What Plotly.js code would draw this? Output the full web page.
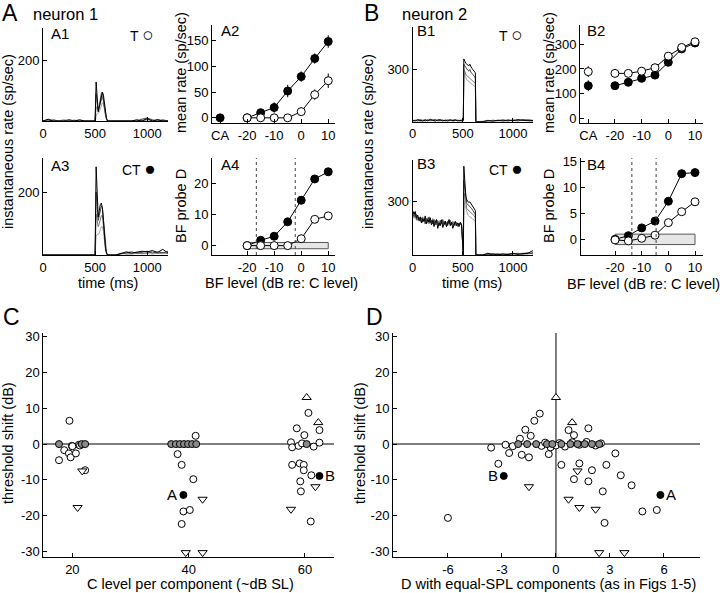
<!DOCTYPE html>
<html>
<head>
<meta charset="utf-8">
<script src="https://cdn.plot.ly/plotly-3.0.1.min.js"></script>
<style>
  html, body { margin: 0; padding: 0; background: #fff; }
  #plotArea { width: 720px; height: 593px; }
</style>
</head>
<body>
<div id="plotArea"></div>
<script>
// ---- neuron 1 PSTHs (A1 = T alone, A3 = C+T), time in ms ----
var tN1 = [0,50,100,150,200,250,300,350,400,450,500,
           510,520,530,540,550,560,570,580,590,600,610,620,650,
           700,750,800,850,900,950,1000,1050,1100,1150,1200];
var a1Rates = [
  [0,0,0,0,5,0,0,0,0,0,0, 15,25,25,30,40,50,60,55,35,15,5,0,0, 0,0,0,0,0,4,0,0,0,5,0],
  [0,4,0,0,0,0,3,0,0,0,0, 45,45,35,45,55,70,80,65,40,15,5,0,0, 0,0,0,0,0,0,6,0,3,0,0],
  [0,0,4,0,0,5,0,0,0,0,0, 90,60,35,50,70,90,95,75,45,18,6,0,0, 0,0,0,0,0,6,10,4,0,3,0],
  [0,6,0,0,0,0,0,4,0,0,0, 128,70,30,45,65,85,95,85,55,25,8,0,0, 0,0,0,0,4,0,8,0,5,0,0]
];
var a3Rates = [
  [0,0,0,0,0,0,0,0,0,0,0, 60,65,65,70,80,90,90,75,45,15,5,0,0, 0,3,5,2,6,4,5,3,6,4,8],
  [0,0,0,0,0,0,0,0,0,0,0, 130,110,90,100,115,125,125,100,60,20,5,0,0, 0,6,3,5,9,4,7,10,5,8,4],
  [0,0,0,0,0,0,0,0,0,0,0, 200,150,110,125,145,155,150,115,60,20,5,0,0, 0,4,6,10,5,8,12,6,10,7,12],
  [0,0,0,0,0,0,0,0,0,0,0, 280,190,120,140,160,165,150,110,60,20,5,0,0, 0,5,10,6,8,12,10,14,8,18,6]
];

// ---- neuron 2 PSTHs (B1 = T alone, B3 = C+T) ----
var tN2 = [0,25,50,75,100,125,150,175,200,225,250,275,300,325,350,375,400,425,450,475,
           505,510,520,530,540,550,560,570,580,590,600,615,625,630,
           700,750,800,850,900,950,1000,1050,1100,1150,1200];
var b1Rates = [
  [10,5,7,3,9,6,12,4,8,10,6,3,9,5,7,12,4,6,8,3, 5,280,265,250,240,235,230,225,220,215,210,205,200,0, 0,6,3,10,5,8,4,9,6,14,8],
  [3,6,10,4,8,12,5,9,6,3,11,7,4,10,6,8,3,7,10,5, 4,300,290,270,265,260,255,250,245,240,235,230,220,0, 0,4,9,5,7,3,10,6,8,11,6],
  [5,9,3,12,7,4,10,6,8,13,5,7,9,4,11,6,8,12,5,9, 6,330,320,310,300,295,290,300,285,280,270,260,250,0, 0,8,4,6,11,5,9,4,12,7,3],
  [8,4,12,6,3,10,5,14,7,4,9,12,5,8,3,11,6,9,4,7, 10,360,345,335,330,325,320,330,315,305,300,290,280,0, 0,5,3,8,4,10,6,12,9,5,7]
];
var tB3 = [0,12.5,25,37.5,50,62.5,75,87.5,100,112.5,125,137.5,150,162.5,175,187.5,
           200,212.5,225,237.5,250,262.5,275,287.5,300,312.5,325,337.5,350,362.5,375,387.5,
           400,412.5,425,437.5,450,462.5,475,487.5,
           505,510,520,530,540,550,560,570,580,590,600,615,625,630,
           700,750,800,850,900,950,1000,1050,1100,1150,1200];
var b3Rates = [
  [215,205,225,195,210,190,205,195,185,200,190,195,180,200,185,190,175,195,180,185,
   175,190,170,185,180,175,190,170,185,175,170,180,175,185,170,175,180,170,175,170,
   0,300,280,250,230,225,220,215,210,205,200,195,190,0, 0,6,2,7,3,9,5,4,11,6,9],
  [225,240,210,230,195,210,200,185,215,190,200,180,210,175,195,185,205,180,190,170,
   195,180,185,200,170,190,175,185,165,190,180,170,190,175,165,185,175,170,180,165,
   0,350,330,280,260,255,250,245,240,235,230,220,210,0, 0,3,5,0,8,4,6,10,4,7,15],
  [235,215,240,200,215,205,190,210,185,200,175,205,190,215,180,195,175,200,170,190,
   185,165,195,175,200,170,185,160,190,175,195,170,180,165,185,175,160,180,170,175,
   0,420,380,310,290,285,280,275,270,260,250,240,230,0, 0,5,8,3,6,0,10,5,8,12,6],
  [250,230,245,210,225,195,215,180,205,190,220,175,200,185,210,170,195,160,185,200,
   150,180,165,195,155,175,190,160,180,200,165,185,150,175,190,165,180,160,185,170,
   0,500,420,330,310,300,295,300,290,280,270,260,250,0, 0,10,0,5,0,3,8,4,6,10,25]
];

// ---- rate-level and D-level functions (BF level, dB re: C level) ----
var bfLevels = [-20,-15,-10,-5,0,5,10];
var caX = [-30];

var a2CA = [0],        a2CAerr = [3];
var a2Filled = [0,10,20,52,80,115,148],  a2FilledErr = [2,6,10,12,10,10,12];
var a2Open   = [0,0,0,0,12,45,72],        a2OpenErr   = [2,2,2,2,8,10,14];
var a4Filled = [0,1.7,3,7.6,14.5,21.3,23.6];
var a4Open   = [0,0,0,0,2.2,8.4,9.5];
var a4Dotted = [-16.6,-2.2];

var b2CAOpen = [189], b2CAFilled = [132], b2CAerr = [22];
var b2Filled = [132,146,162,175,227,281,305], b2FilledErr = [8,8,8,8,10,10,10];
var b2Open   = [182,182,191,205,252,287,310], b2OpenErr   = [8,8,8,10,10,10,10];
var b4Filled = [0,0.7,2.2,3.5,7.3,12.6,12.8];
var b4Open   = [-0.1,-0.3,0.2,0.8,3.2,5.3,7.2];
var b4Dotted = [-13.7,-4.6];

var boxX = [-20,10], boxY = [-1,1];

// ---- panel C: threshold shift vs C level ----
var cOpenX = [19.5,19.9,21.1,18.6,17.7,19.4,19.7,20.6,21.3,22.2,20.0,
              41.2,38.1,38.8,40.8,39.1,40.2,38.8,
              60.6,62.5,58.6,59.9,57.6,57.8,58.9,59.5,61.5,62.5,57.8,59.1,59.8,59.8,61.1,59.2,59.3,61.0];
var cOpenY = [6.5,-0.5,-0.2,-1.7,-4.5,-2.6,-3.7,-2.6,-0.4,-7.3,-0.6,
              2.3,-2.8,-5.8,-9.8,-18.8,-18.4,-22.3,
              8.7,3.9,4.4,2.5,0.5,-0.9,-0.5,0.2,-0.7,0.4,-5.8,-5.4,-5.8,-7.3,-8.7,-10.4,-13.2,-21.6];
var cGrayX = [17.7,21.6,22.2,37.0,37.8,38.5,39.2,39.9,40.6,41.3,60.3];
var cGrayY = [0,0,0,0,0,0,0,0,0,0,0];
var cUpX = [60.3,62.3], cUpY = [13.0,6.0];
var cDownX = [20.9,21.7,42.4,39.5,42.4,61.8,57.6];
var cDownY = [-17.7,-7.5,-15.4,-30.3,-30.3,-11.9,-18.2];
var cBlackX = [39.1,62.5], cBlackY = [-14.2,-8.9];

// ---- panel D: threshold shift vs D with equal-SPL components ----
var dOpenX = [-6.0,-3.6,-3.2,-2.6,-2.4,-1.9,-2.0,-1.7,-1.2,-0.9,-1.4,-0.8,-0.6,-0.3,0.2,0.5,0.9,1.3,1.7,2.2,2.5,
              0.7,1.0,1.8,-0.4,0.3,1.3,2.0,2.8,3.3,1.8,3.6,2.6,2.7,4.2,4.8,5.6,1.0,-1.5,-2.8,0.0];
var dOpenY = [-20.6,-1.0,-5.5,-2.5,-0.6,-3.0,1.5,4.0,6.5,8.5,2.3,-0.5,0.4,-0.9,0.3,-0.7,0.5,-0.2,0.6,-0.4,0.2,
              3.9,2.5,4.4,-2.8,-5.8,-5.4,-7.3,-5.8,-2.6,-10.4,-8.7,-13.2,-22.0,-11.5,-18.8,-18.4,-9.8,-3.7,-0.2,-0.4];
var dGrayX = [-2.1,-1.6,-1.1,-0.5,-0.2,0.3,0.8,1.2,1.6,2.0,2.4];
var dGrayY = [0,0,0,0,0,0,0,0,0,0,0];
var dUpX = [0.0,0.9], dUpY = [13.0,6.0];
var dDownX = [1.3,1.2,0.7,2.4,3.8,-1.5,2.2];
var dDownY = [-17.7,-7.5,-15.4,-30.3,-30.3,-11.9,-18.2];
var dBlackX = [5.8,-2.9], dBlackY = [-14.2,-8.9];
var blackLabels = ["A","B"];

// ---- tick values / labels ----
var timeTicks = [0,500,1000];
var caTicks = [-30,-20,-10,0,10], caTickText = ["CA","-20","-10","0","10"];
var bfTicks = [-20,-10,0,10], bfTickText = ["-20","-10","0","10"];
var shiftTicks = [-30,-20,-10,0,10,20,30], shiftTickText = ["-30","-20","-10","0","10","20","30"];
var dTicks = [-6,-3,0,3,6], dTickText = ["-6","-3","0","3","6"];

var FONT = "Liberation Sans, Arial, Helvetica, sans-serif";
var shades = ["#a8a8a8","#767676","#444444","#000000"];

function px(x) { return x / 720; }
function py(y) { return 1 - y / 593; }

function axis(d, range, tickvals, ticktext, anchor) {
  var a = {
    domain: d, range: range, anchor: anchor,
    showline: true, linecolor: "#000", linewidth: 1,
    ticks: "inside", ticklen: 4, tickcolor: "#000", tickwidth: 1,
    showgrid: false, zeroline: false, fixedrange: true,
    tickmode: "array", tickvals: tickvals,
    tickfont: {family: FONT, size: 13, color: "#000"}
  };
  if (ticktext) a.ticktext = ticktext;
  return a;
}

var data = [];

function psth(t, rates, n) {
  for (var i = 0; i < rates.length; i++) {
    data.push({x: t, y: rates[i], mode: "lines", type: "scatter",
      line: {color: shades[i], width: 1}, xaxis: "x" + n, yaxis: "y" + n,
      hoverinfo: "skip"});
  }
}

function curve(x, y, err, filled, n, lines) {
  var tr = {x: x, y: y, type: "scatter", mode: lines ? "lines+markers" : "markers",
    line: {color: "#000", width: 1},
    marker: {symbol: "circle", size: 8, color: filled ? "#000" : "#fff",
             line: {color: "#000", width: 1}},
    xaxis: "x" + n, yaxis: "y" + n, hoverinfo: "skip"};
  if (err) tr.error_y = {type: "data", array: err, visible: true, color: "#000", thickness: 1, width: 0};
  data.push(tr);
}

function dots(x, y, symbol, color, n, size) {
  data.push({x: x, y: y, type: "scatter", mode: "markers",
    marker: {symbol: symbol, size: size, color: color, line: {color: "#000", width: 1}},
    xaxis: "x" + n, yaxis: "y" + n, hoverinfo: "skip"});
}

// A1, A3, B1, B3
psth(tN1, a1Rates, "");
psth(tN1, a3Rates, "3");
psth(tN2, b1Rates, "5");
psth(tB3, b3Rates, "7");

// A2
curve(bfLevels, a2Filled, a2FilledErr, true, "2", true);
curve(bfLevels, a2Open, a2OpenErr, false, "2", true);
curve(caX, a2CA, a2CAerr, true, "2", false);
// A4
curve(bfLevels, a4Filled, null, true, "4", true);
curve(bfLevels, a4Open, null, false, "4", true);
// B2
curve(bfLevels, b2Filled, b2FilledErr, true, "6", true);
curve(bfLevels, b2Open, b2OpenErr, false, "6", true);
curve(caX, b2CAOpen, b2CAerr, false, "6", false);
curve(caX, b2CAFilled, b2CAerr, true, "6", false);
// B4
curve(bfLevels, b4Filled, null, true, "8", true);
curve(bfLevels, b4Open, null, false, "8", true);

// C
dots(cOpenX, cOpenY, "circle", "#fff", "9", 7);
dots(cGrayX, cGrayY, "circle", "#8a8a8a", "9", 7);
dots(cUpX, cUpY, "triangle-up", "#fff", "9", 8);
dots(cDownX, cDownY, "triangle-down", "#fff", "9", 8);
dots(cBlackX, cBlackY, "circle", "#000", "9", 7);
// D
dots(dOpenX, dOpenY, "circle", "#fff", "10", 7);
dots(dGrayX, dGrayY, "circle", "#8a8a8a", "10", 7);
dots(dUpX, dUpY, "triangle-up", "#fff", "10", 8);
dots(dDownX, dDownY, "triangle-down", "#fff", "10", 8);
dots(dBlackX, dBlackY, "circle", "#000", "10", 7);

var layout = {
  width: 720, height: 593,
  margin: {l: 0, r: 0, t: 0, b: 0},
  paper_bgcolor: "#fff", plot_bgcolor: "rgba(0,0,0,0)",
  showlegend: false,
  font: {family: FONT, size: 13, color: "#000"},

  xaxis:  axis([px(43), px(168)], [0,1200], timeTicks, null, "y"),
  yaxis:  axis([py(121), py(28)], [0,305], [200], null, "x"),
  xaxis2: axis([px(212), px(335)], [-33,12.5], caTicks, caTickText, "y2"),
  yaxis2: axis([py(123), py(25)], [-10,180], [0,50,100,150], null, "x2"),
  xaxis3: axis([px(43), px(168)], [0,1200], timeTicks, null, "y3"),
  yaxis3: axis([py(255), py(158)], [0,308], [200], null, "x3"),
  xaxis4: axis([px(212), px(335)], [-33,12.5], bfTicks, bfTickText, "y4"),
  yaxis4: axis([py(255), py(158)], [-3,28], [0,10,20], null, "x4"),

  xaxis5: axis([px(412.7), px(533)], [0,1200], timeTicks, null, "y5"),
  yaxis5: axis([py(121.7), py(26.7)], [0,545], [300], null, "x5"),
  xaxis6: axis([px(580), px(703)], [-33.1,13], caTicks, caTickText, "y6"),
  yaxis6: axis([py(123), py(25)], [-19,378], [0,100,200,300], null, "x6"),
  xaxis7: axis([px(412.7), px(533)], [0,1200], timeTicks, null, "y7"),
  yaxis7: axis([py(255), py(160)], [0,535], [300], null, "x7"),
  xaxis8: axis([px(580.7), px(703)], [-32.9,13], bfTicks, bfTickText, "y8"),
  yaxis8: axis([py(255), py(158)], [-3,15.6], [0,5,10,15], null, "x8"),

  xaxis9: axis([px(43.3), px(334)], [15,65], [20,40,60], null, "y9"),
  yaxis9: axis([py(557.3), py(333)], [-31.6,31.0], shiftTicks, shiftTickText, "x9"),
  xaxis10: axis([px(393), px(700)], [-9.05,8], dTicks, dTickText, "y10"),
  yaxis10: axis([py(557.3), py(333)], [-31.6,31.0], shiftTicks, shiftTickText, "x10"),

  shapes: [
    {type: "rect", xref: "x4", yref: "y4", x0: boxX[0], x1: boxX[1], y0: boxY[0], y1: boxY[1],
     fillcolor: "#e6e6e6", line: {color: "#555", width: 1}, layer: "below"},
    {type: "rect", xref: "x8", yref: "y8", x0: boxX[0], x1: boxX[1], y0: boxY[0], y1: boxY[1],
     fillcolor: "#e6e6e6", line: {color: "#555", width: 1}, layer: "below"},
    {type: "line", xref: "x4", yref: "y4 domain", x0: a4Dotted[0], x1: a4Dotted[0], y0: 0, y1: 1,
     line: {color: "#444", width: 1, dash: "dot"}},
    {type: "line", xref: "x4", yref: "y4 domain", x0: a4Dotted[1], x1: a4Dotted[1], y0: 0, y1: 1,
     line: {color: "#444", width: 1, dash: "dot"}},
    {type: "line", xref: "x8", yref: "y8 domain", x0: b4Dotted[0], x1: b4Dotted[0], y0: 0, y1: 1,
     line: {color: "#444", width: 1, dash: "dot"}},
    {type: "line", xref: "x8", yref: "y8 domain", x0: b4Dotted[1], x1: b4Dotted[1], y0: 0, y1: 1,
     line: {color: "#444", width: 1, dash: "dot"}},
    // zero lines in C and D
    {type: "line", xref: "x9 domain", yref: "y9", x0: 0, x1: 1, y0: 0, y1: 0,
     line: {color: "#555", width: 1.5}, layer: "below"},
    {type: "line", xref: "x10 domain", yref: "y10", x0: 0, x1: 1, y0: 0, y1: 0,
     line: {color: "#555", width: 1.5}, layer: "below"},
    {type: "line", xref: "x10", yref: "y10 domain", x0: 0, x1: 0, y0: 0, y1: 1,
     line: {color: "#555", width: 1.5}, layer: "below"}
  ],
  annotations: []
};

function note(text, x, y, size, xanchor, angle) {
  layout.annotations.push({text: text, xref: "paper", yref: "paper", x: px(x), y: py(y),
    xanchor: xanchor || "left", yanchor: "middle", showarrow: false, textangle: angle || 0,
    font: {family: FONT, size: size, color: "#000"}});
}

var openSym = "<span style='font-size:19px'>\u25CB</span>";
var filledSym = "<span style='font-size:19px'>\u25CF</span>";

// panel letters and headers
note("A", 0, 13, 23);
note("neuron 1", 31, 14, 16.5);
note("B", 362, 13, 23);
note("neuron 2", 400, 14, 16.5);
note("C", 1, 317, 23);
note("D", 364, 317, 23);

note("A1", 49, 33, 15);
note("T " + openSym, 128, 35, 14);
note("A2", 219, 30, 15);
note("A3", 49, 165, 15);
note("CT " + filledSym, 120, 168, 14);
note("A4", 219, 164, 15);
note("B1", 415, 31, 15);
note("T " + openSym, 497, 35, 14);
note("B2", 585, 30, 15);
note("B3", 415, 163, 15);
note("CT " + filledSym, 487, 168, 14);
note("B4", 585, 164, 15);

// axis titles
note("instantaneous rate (sp/sec)", 8, 142, 14.5, "center", -90);
note("instantaneous rate (sp/sec)", 368, 142, 14.5, "center", -90);
note("mean rate (sp/sec)", 181, 73, 14.5, "center", -90);
note("mean rate (sp/sec)", 549, 73, 14.5, "center", -90);
note("BF probe D", 181, 206, 14.5, "center", -90);
note("BF probe D", 549, 206, 14.5, "center", -90);
note("time (ms)", 108, 283, 14.5, "center");
note("time (ms)", 472, 283, 14.5, "center");
note("BF level (dB re: C level)", 281, 283, 14.5, "center");
note("BF level (dB re: C level)", 643, 284, 14.5, "center");
note("threshold shift (dB)", 8, 443, 14.5, "center", -90);
note("threshold shift (dB)", 360, 443, 14.5, "center", -90);
note("C level per component (~dB SL)", 190, 584, 14.5, "center");
note("D with equal-SPL components (as in Figs 1-5)", 548, 584, 14.5, "center");

// A / B labels next to the black points
layout.annotations.push({text: blackLabels[0], xref: "x9", yref: "y9", x: cBlackX[0], y: cBlackY[0],
  xanchor: "right", xshift: -4, showarrow: false, font: {family: FONT, size: 15, color: "#000"}});
layout.annotations.push({text: blackLabels[1], xref: "x9", yref: "y9", x: cBlackX[1], y: cBlackY[1],
  xanchor: "left", xshift: 4, showarrow: false, font: {family: FONT, size: 15, color: "#000"}});
layout.annotations.push({text: blackLabels[0], xref: "x10", yref: "y10", x: dBlackX[0], y: dBlackY[0],
  xanchor: "left", xshift: 4, showarrow: false, font: {family: FONT, size: 15, color: "#000"}});
layout.annotations.push({text: blackLabels[1], xref: "x10", yref: "y10", x: dBlackX[1], y: dBlackY[1],
  xanchor: "right", xshift: -4, showarrow: false, font: {family: FONT, size: 15, color: "#000"}});

Plotly.newPlot("plotArea", data, layout, {displayModeBar: false, staticPlot: true});
</script>
</body>
</html>
